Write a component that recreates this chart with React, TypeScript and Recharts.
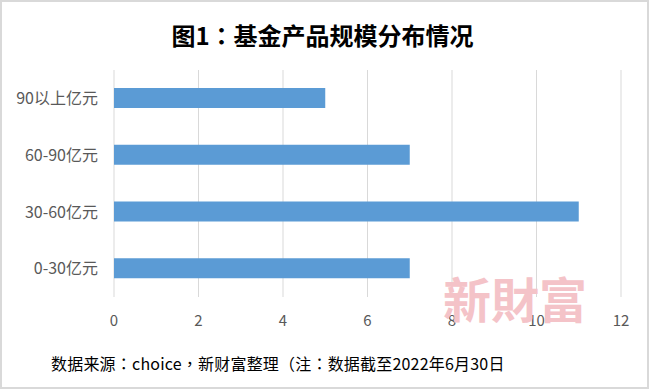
import { BarChart, Bar, XAxis, YAxis, CartesianGrid } from "recharts";

const categories = ["90以上亿元", "60-90亿元", "30-60亿元", "0-30亿元"];
const counts = [5, 7, 11, 7];
const xTicks = [0, 2, 4, 6, 8, 10, 12];

const title = "图1：基金产品规模分布情况";
const source = "数据来源：choice，新财富整理（注：数据截至2022年6月30日";
const watermark = "新財富";

const FONT = "'Noto Sans CJK SC', 'Noto Sans', sans-serif";

// the TC face centres full-width colons and commas, as the original does
function Punct({ text }: { text: string }) {
  const parts = text.split(/([：，])/);
  return (
    <>
      {parts.map((p, i) =>
        p === "：" || p === "，" ? (
          <span key={i} style={{ fontFamily: "'Noto Sans CJK TC', sans-serif" }}>
            {p}
          </span>
        ) : (
          <span key={i}>{p}</span>
        )
      )}
    </>
  );
}

export default function App() {
  const data = categories.map((name, i) => ({ name, value: counts[i] }));

  return (
    <div
      style={{
        position: "absolute",
        left: 0,
        top: 0,
        width: 649,
        height: 389,
        boxSizing: "border-box",
        border: "2px solid #d9d9d9",
        background: "#fff",
        fontFamily: FONT,
        overflow: "hidden",
      }}
    >
      <div style={{ position: "absolute", left: 0, top: 0 }}>
        <BarChart
          width={645}
          height={385}
          data={data}
          layout="vertical"
          margin={{ top: 68, right: 26, bottom: 60, left: 0 }}
        >
          <CartesianGrid horizontal={false} stroke="#d9d9d9" />
          <XAxis
            type="number"
            domain={[0, 12]}
            ticks={xTicks}
            height={30}
            axisLine={false}
            tickLine={false}
            tickSize={0}
            tickMargin={18}
            tick={{ fill: "#595959", fontSize: 15, fontFamily: FONT }}
          />
          <YAxis
            type="category"
            dataKey="name"
            width={112}
            axisLine={false}
            tickLine={false}
            tickSize={0}
            tickMargin={16}
            tick={{ fill: "#595959", fontSize: 16, fontFamily: FONT }}
          />
          <Bar
            dataKey="value"
            fill="#5b9bd5"
            barSize={20}
            isAnimationActive={false}
          />
        </BarChart>
      </div>
      <div
        style={{
          position: "absolute",
          left: 0,
          width: 641,
          top: 17,
          textAlign: "center",
          fontSize: 24,
          fontWeight: 700,
          color: "#000",
          lineHeight: "32px",
          whiteSpace: "nowrap",
        }}
      >
        <Punct text={title} />
      </div>
      <div
        style={{
          position: "absolute",
          left: 441,
          top: 265,
          fontSize: 48,
          fontWeight: 700,
          color: "#f4c3c8",
          lineHeight: "60px",
          fontFamily: "'Noto Sans CJK TC', serif",
        }}
      >
        {watermark}
      </div>
      <div
        style={{
          position: "absolute",
          left: 49,
          top: 349,
          fontSize: 16,
          letterSpacing: 0.2,
          color: "#000",
          lineHeight: "24px",
          whiteSpace: "nowrap",
        }}
      >
        <Punct text={source} />
      </div>
    </div>
  );
}
